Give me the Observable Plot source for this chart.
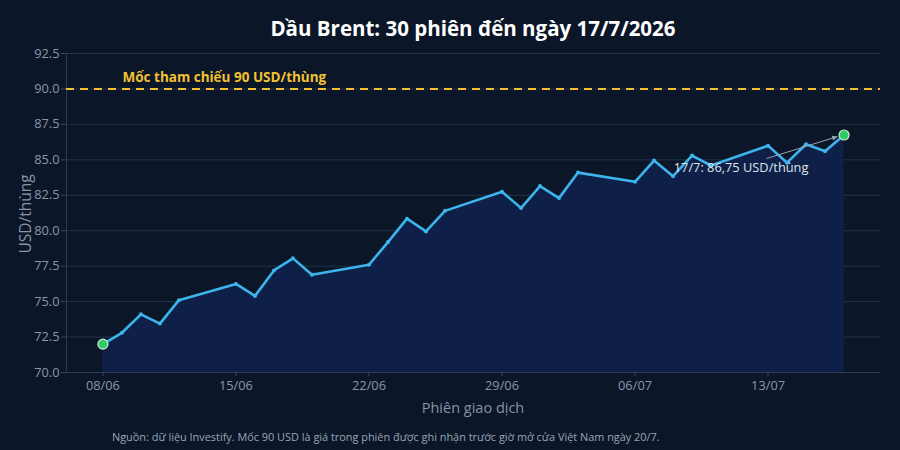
<!DOCTYPE html>
<html>
<head>
<meta charset="utf-8">
<script src="https://cdn.jsdelivr.net/npm/d3@7"></script>
<script src="https://cdn.jsdelivr.net/npm/@observablehq/plot@0.6"></script>
<style>
  html, body { margin: 0; padding: 0; }
  body {
    background: #0b1628;
    width: 900px; height: 450px; overflow: hidden; position: relative;
    font-family: "Open Sans", "Noto Sans", sans-serif;
  }
  #chart { position: absolute; left: 0; top: 0; }
  #title {
    position: absolute; top: 14px; left: 66px; width: 814px; text-align: center;
    color: #ffffff; font-weight: 700; font-size: 20.5px; line-height: 28px;
  }
  #ylabel {
    position: absolute; left: 25px; top: 214px; transform: translate(-50%, -50%) rotate(-90deg);
    color: #8794a6; font-size: 15.5px; white-space: nowrap;
  }
  #xlabel {
    position: absolute; left: 473px; top: 407px; transform: translate(-50%, -50%);
    color: #8794a6; font-size: 14.5px; white-space: nowrap;
  }
  #caption {
    position: absolute; top: 429px; left: 112px;
    color: #9aa6b6; font-size: 10.9px; white-space: nowrap;
  }
</style>
</head>
<body>
<div id="chart"></div>
<div id="title">Dầu Brent: 30 phiên đến ngày 17/7/2026</div>
<div id="ylabel">USD/thùng</div>
<div id="xlabel">Phiên giao dịch</div>
<div id="caption">Nguồn: dữ liệu Investify. Mốc 90 USD là giá trong phiên được ghi nhận trước giờ mở cửa Việt Nam ngày 20/7.</div>
<script>
// Trading sessions (weekdays) and Brent closing prices, USD per barrel
const sessions = [
  "2026-06-08", "2026-06-09", "2026-06-10", "2026-06-11", "2026-06-12",
  "2026-06-15", "2026-06-16", "2026-06-17", "2026-06-18", "2026-06-19",
  "2026-06-22", "2026-06-23", "2026-06-24", "2026-06-25", "2026-06-26",
  "2026-06-29", "2026-06-30", "2026-07-01", "2026-07-02", "2026-07-03",
  "2026-07-06", "2026-07-07", "2026-07-08", "2026-07-09", "2026-07-10",
  "2026-07-13", "2026-07-14", "2026-07-15", "2026-07-16", "2026-07-17"
];
const prices = [
  72.0, 72.8, 74.1, 73.45, 75.1,
  76.25, 75.4, 77.2, 78.05, 76.9,
  77.6, 79.2, 80.85, 79.95, 81.4,
  82.75, 81.6, 83.15, 82.3, 84.1,
  83.45, 84.95, 83.85, 85.3, 84.6,
  86.0, 84.8, 86.1, 85.6, 86.75
];
const xTickDates = ["2026-06-08", "2026-06-15", "2026-06-22", "2026-06-29", "2026-07-06", "2026-07-13"];
const yTicks = [70, 72.5, 75, 77.5, 80, 82.5, 85, 87.5, 90, 92.5];
const referencePrice = 90;
const referenceLabel = "Mốc tham chiếu 90 USD/thùng";

const data = sessions.map((s, i) => ({ date: new Date(s), price: prices[i] }));
const first = data[0];
const last = data[data.length - 1];
const yMin = yTicks[0];
const yMax = yTicks[yTicks.length - 1];

// pad the time axis by roughly two days on each side
const pad = 46 * 3600 * 1000;
const xDomain = [new Date(+first.date - pad), new Date(+last.date + pad)];

const lineColor = "#3db4ec";
const fmtDay = d3.utcFormat("%d/%m");
const fmtShort = d3.utcFormat("%-d/%-m");
const calloutText = `${fmtShort(last.date)}: ${last.price.toFixed(2).replace(".", ",")} USD/thùng`;

// callout: label sits below-left of the last session, with a thin pointer to it
const calloutDx = -103, calloutDy = 33;
function pointer(index, scales) {
  const px = scales.x(last.date), py = scales.y(last.price);
  const x0 = px - 77, y0 = py + 24;
  const x1 = px - 6, y1 = py + 2;
  const ang = Math.atan2(y1 - y0, x1 - x0);
  const h = 6, w = 0.45;
  const g = d3.create("svg:g");
  g.append("line")
    .attr("x1", x0).attr("y1", y0).attr("x2", x1).attr("y2", y1)
    .attr("stroke", "#9aa3ae").attr("stroke-width", 1);
  g.append("path")
    .attr("d", `M${x1},${y1}L${x1 - h * Math.cos(ang - w)},${y1 - h * Math.sin(ang - w)}L${x1 - h * Math.cos(ang + w)},${y1 - h * Math.sin(ang + w)}Z`)
    .attr("fill", "#9aa3ae");
  return g.node();
}

const chart = Plot.plot({
  width: 900,
  height: 450,
  marginTop: 53,
  marginBottom: 78,
  marginLeft: 66,
  marginRight: 20,
  style: { background: "transparent", fontFamily: "\"Open Sans\", \"Noto Sans\", sans-serif", fontSize: "12px" },
  x: { type: "utc", domain: xDomain },
  y: { domain: [yMin, yMax] },
  marks: [
    Plot.gridY(yTicks, { stroke: "#22324a", strokeOpacity: 1, strokeWidth: 1 }),
    Plot.areaY(data, { x: "date", y1: yMin, y2: "price", fill: "#0f2149", fillOpacity: 0.95 }),
    Plot.ruleY([yMin], { stroke: "#2c3b52", strokeWidth: 1 }),
    Plot.ruleX([xDomain[0]], { stroke: "#2c3b52", strokeWidth: 1 }),
    Plot.axisY({ ticks: yTicks, tickFormat: d => d.toFixed(1), tickSize: 5, tickPadding: 2, label: null, stroke: "#3a4a62", fill: "#8b97a8", fontSize: 12.8 }),
    Plot.axisX({ ticks: xTickDates.map(s => new Date(s)), tickFormat: fmtDay, tickSize: 4, tickPadding: 4, label: null, stroke: "#3a4a62", fill: "#8b97a8", fontSize: 12.8 }),
    Plot.ruleY([referencePrice], { stroke: "#f2c230", strokeWidth: 2, strokeDasharray: "8,6" }),
    Plot.text([referenceLabel], { frameAnchor: "left", y: referencePrice, dx: 56, dy: -11, text: d => d, textAnchor: "start", fill: "#f2c230", fontWeight: 700, fontSize: 13.5 }),
    Plot.lineY(data, { x: "date", y: "price", stroke: lineColor, strokeWidth: 2.6, strokeLinejoin: "round" }),
    Plot.dot(data, { x: "date", y: "price", r: 2, fill: lineColor }),
    Plot.dot([first, last], { x: "date", y: "price", r: 5, fill: "#2fcb64", stroke: "#cdeed6", strokeWidth: 1.2 }),
    pointer,
    Plot.text([last], { x: "date", y: "price", dx: calloutDx, dy: calloutDy, text: () => calloutText, textAnchor: "middle", fill: "#dde4ee", fontSize: 12.8 })
  ]
});

document.getElementById("chart").appendChild(chart);
</script>
</body>
</html>
